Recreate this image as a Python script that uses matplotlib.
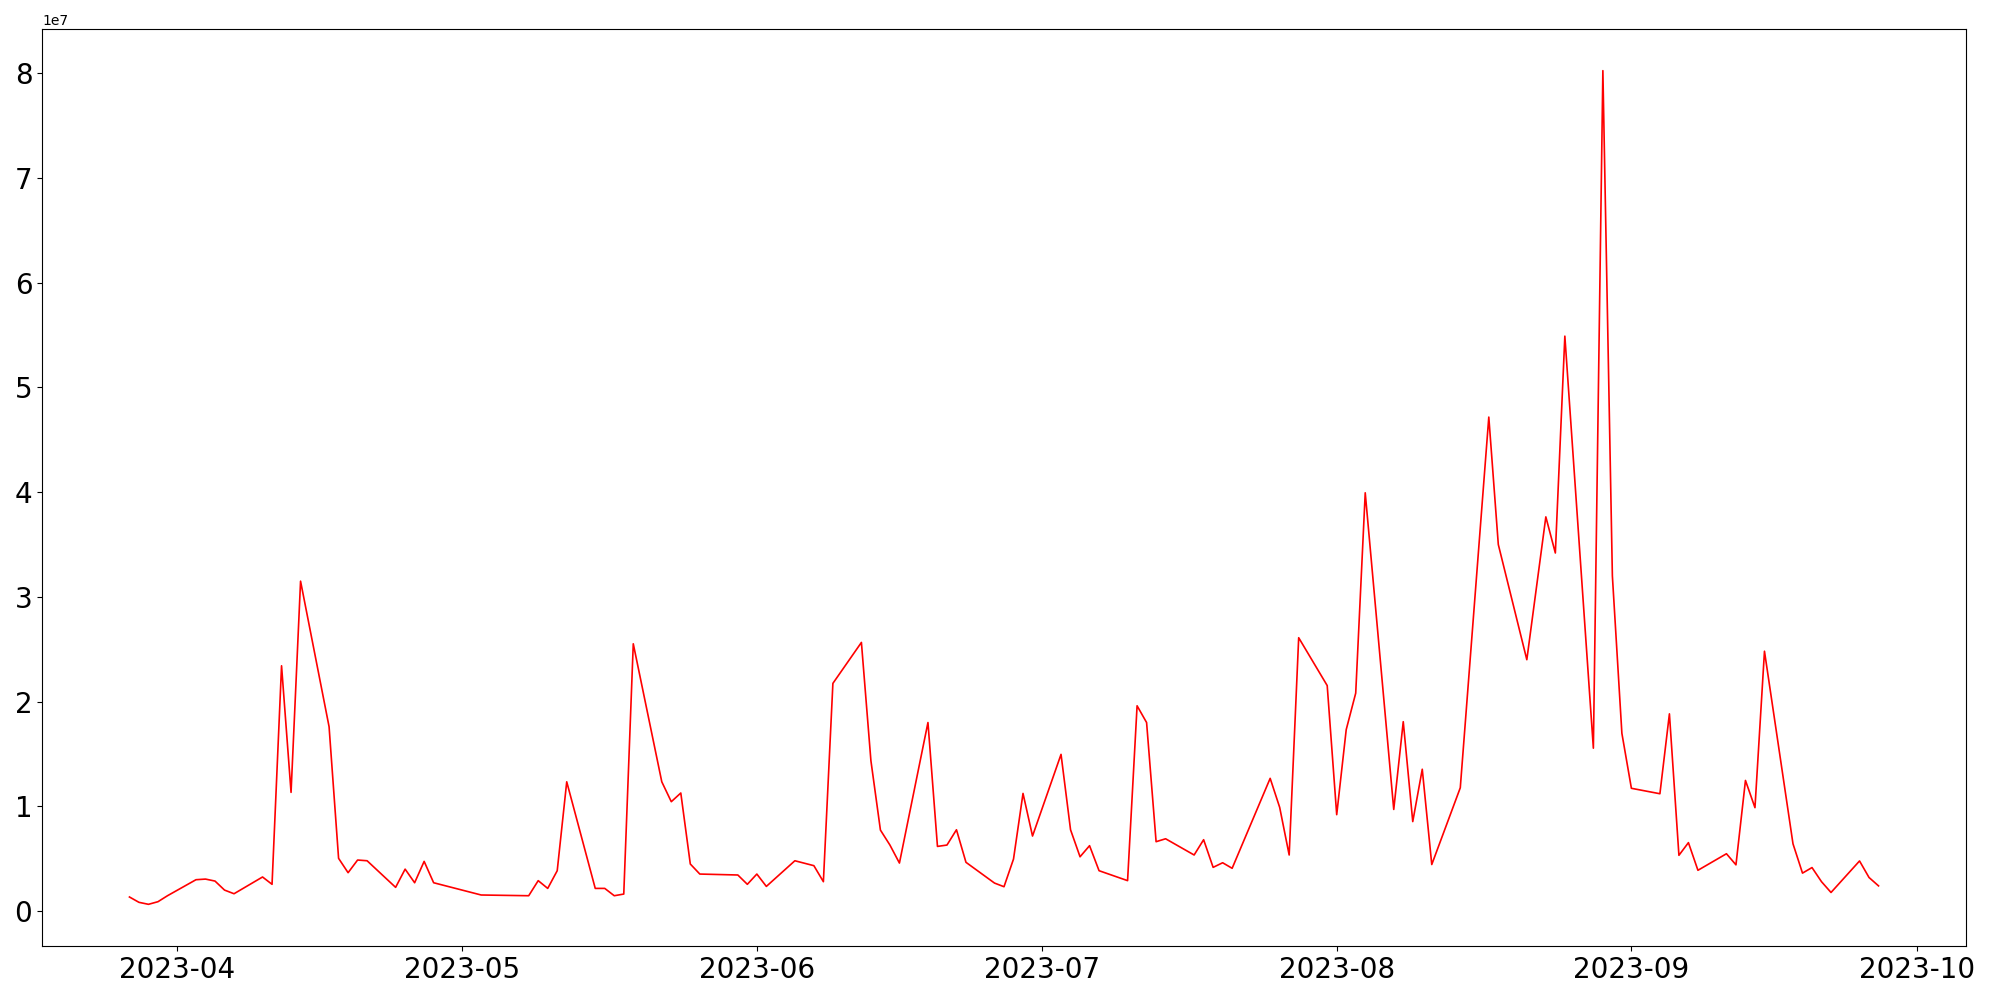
import matplotlib
matplotlib.use("Agg")
import matplotlib.pyplot as plt
import pandas as pd

dates = [
    "2023-03-27", "2023-03-28", "2023-03-29", "2023-03-30", "2023-03-31",
    "2023-04-03", "2023-04-04", "2023-04-05", "2023-04-06", "2023-04-07",
    "2023-04-10", "2023-04-11", "2023-04-12", "2023-04-13", "2023-04-14",
    "2023-04-17", "2023-04-18", "2023-04-19", "2023-04-20", "2023-04-21",
    "2023-04-24", "2023-04-25", "2023-04-26", "2023-04-27", "2023-04-28",
    "2023-05-03", "2023-05-08", "2023-05-09", "2023-05-10", "2023-05-11",
    "2023-05-12", "2023-05-15", "2023-05-16", "2023-05-17", "2023-05-18",
    "2023-05-19", "2023-05-22", "2023-05-23", "2023-05-24", "2023-05-25",
    "2023-05-26", "2023-05-30", "2023-05-31", "2023-06-01", "2023-06-02",
    "2023-06-05", "2023-06-07", "2023-06-08", "2023-06-09", "2023-06-12",
    "2023-06-13", "2023-06-14", "2023-06-15", "2023-06-16", "2023-06-19",
    "2023-06-20", "2023-06-21", "2023-06-22", "2023-06-23", "2023-06-26",
    "2023-06-27", "2023-06-28", "2023-06-29", "2023-06-30", "2023-07-03",
    "2023-07-04", "2023-07-05", "2023-07-06", "2023-07-07", "2023-07-10",
    "2023-07-11", "2023-07-12", "2023-07-13", "2023-07-14", "2023-07-17",
    "2023-07-18", "2023-07-19", "2023-07-20", "2023-07-21", "2023-07-25",
    "2023-07-26", "2023-07-27", "2023-07-28", "2023-07-31", "2023-08-01",
    "2023-08-02", "2023-08-03", "2023-08-04", "2023-08-07", "2023-08-08",
    "2023-08-09", "2023-08-10", "2023-08-11", "2023-08-14", "2023-08-17",
    "2023-08-18", "2023-08-21", "2023-08-23", "2023-08-24", "2023-08-25",
    "2023-08-28", "2023-08-29", "2023-08-30", "2023-08-31", "2023-09-01",
    "2023-09-04", "2023-09-05", "2023-09-06", "2023-09-07", "2023-09-08",
    "2023-09-11", "2023-09-12", "2023-09-13", "2023-09-14", "2023-09-15",
    "2023-09-18", "2023-09-19", "2023-09-20", "2023-09-21", "2023-09-22",
    "2023-09-25", "2023-09-26", "2023-09-27",
]

volumes = [
    1.34e6, 0.83e6, 0.64e6, 0.89e6, 1.46e6,
    2.99e6, 3.05e6, 2.86e6, 2.00e6, 1.65e6,
    3.25e6, 2.55e6, 23.42e6, 11.33e6, 31.50e6,
    17.60e6, 5.03e6, 3.66e6, 4.87e6, 4.80e6,
    2.26e6, 4.00e6, 2.70e6, 4.74e6, 2.70e6,
    1.53e6, 1.46e6, 2.90e6, 2.16e6, 3.85e6,
    12.34e6, 2.16e6, 2.16e6, 1.46e6, 1.62e6,
    25.52e6, 12.34e6, 10.44e6, 11.27e6, 4.49e6,
    3.53e6, 3.44e6, 2.55e6, 3.53e6, 2.35e6,
    4.80e6, 4.33e6, 2.80e6, 21.74e6, 25.65e6,
    14.35e6, 7.73e6, 6.30e6, 4.58e6, 18.00e6,
    6.17e6, 6.30e6, 7.76e6, 4.65e6, 2.67e6,
    2.32e6, 4.96e6, 11.23e6, 7.16e6, 14.96e6,
    7.76e6, 5.18e6, 6.24e6, 3.85e6, 2.90e6,
    19.60e6, 18.00e6, 6.62e6, 6.90e6, 5.35e6,
    6.81e6, 4.17e6, 4.61e6, 4.08e6, 12.67e6,
    9.90e6, 5.35e6, 26.10e6, 21.53e6, 9.20e6,
    17.32e6, 20.81e6, 39.94e6, 9.70e6, 18.08e6,
    8.54e6, 13.54e6, 4.44e6, 11.77e6, 47.17e6,
    35.00e6, 24.00e6, 37.64e6, 34.19e6, 54.90e6,
    15.55e6, 80.25e6, 32.00e6, 16.97e6, 11.72e6,
    11.20e6, 18.83e6, 5.32e6, 6.53e6, 3.89e6,
    5.47e6, 4.41e6, 12.47e6, 9.87e6, 24.81e6,
    6.42e6, 3.62e6, 4.15e6, 2.80e6, 1.77e6,
    4.78e6, 3.20e6, 2.40e6,
]

x = pd.to_datetime(dates)

fig, ax = plt.subplots(figsize=(20, 10), dpi=100)
ax.plot(x, volumes, color="red", linewidth=1.2)
ax.tick_params(axis="both", labelsize=20)
fig.subplots_adjust(left=0.021, right=0.983, bottom=0.054, top=0.971)
fig.savefig("out.png", dpi=100)
